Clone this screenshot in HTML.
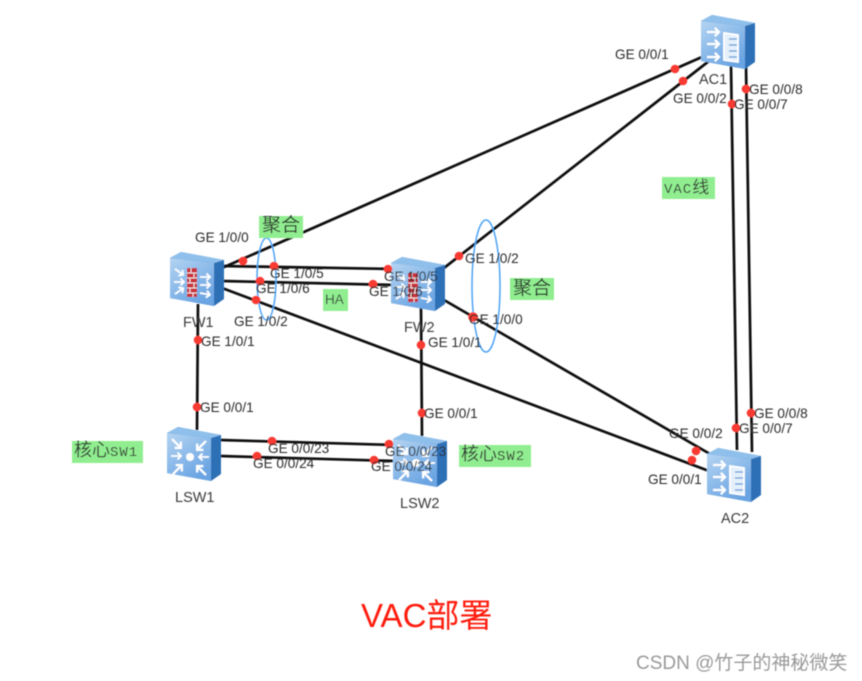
<!DOCTYPE html>
<html><head><meta charset="utf-8"><style>
html,body{margin:0;padding:0;background:#fff;width:862px;height:681px;overflow:hidden}
svg{display:block}
.t{font:13.6px "Liberation Sans",sans-serif;fill:#2b2b2b}
.n{font:14.5px "Liberation Sans",sans-serif;fill:#3a3a3a}
.c{font:19px "Liberation Sans","Noto Sans CJK SC",sans-serif;fill:#2b2b2b}
.m{font:14px "Liberation Mono","Noto Sans CJK SC",monospace;fill:#333;letter-spacing:1px}
.l{stroke:#111;stroke-width:2.7;fill:none}
.d{fill:#f83a32}
</style></head><body>
<svg width="862" height="681" viewBox="0 0 862 681" xmlns="http://www.w3.org/2000/svg">
<defs>
<linearGradient id="f" x1="0" y1="0" x2="0.6" y2="1"><stop offset="0" stop-color="#b4d4f2"/><stop offset="1" stop-color="#6aa4e2"/></linearGradient>
<filter id="b"><feGaussianBlur stdDeviation="0.45"/></filter>
<g id="box">
<path d="M0 6L11 0L54 8L54 47L44 54L0 46Z" fill="#2f70b6"/>
<path d="M0 6L11 0L54 8L44 11Z" fill="#8fc0ec"/>
<path d="M0 6L44 11L44 54L0 46Z" fill="url(#f)"/>
</g>
<g id="arr" fill="none" stroke="#fff" stroke-width="1.8"><path d="M0 0H10M6.500 -3.500L10 0L6.500 3.500"/></g>
<g id="fw"><use href="#box"/>
<rect x="17" y="16" width="10" height="29" fill="#c8303a"/>
<path d="M17 21H27M17 26H27M17 31H27M17 36H27M17 41H27M21 16V21M24 21V26M20 26V31M24 31V36M20 36V41M23 41V45" stroke="#f3dfe0" stroke-width="1"/>
<use href="#arr" transform="translate(5 17) rotate(35)"/><use href="#arr" transform="translate(4 30)"/><use href="#arr" transform="translate(5 42) rotate(-35)"/>
<use href="#arr" transform="translate(30 25)"/><use href="#arr" transform="translate(30 33)"/><use href="#arr" transform="translate(30 41) rotate(10)"/>
</g>
<g id="ac"><use href="#box"/>
<use href="#arr" transform="translate(6 17) scale(1.2)"/><use href="#arr" transform="translate(6 29) scale(1.2)"/><use href="#arr" transform="translate(6 42) scale(1.2)"/>
<path d="M23 18L37 20V47L23 45Z" fill="#e4f0fb" stroke="#fff" stroke-width="1.800"/>
<path d="M28 24H36M28 30H36M28 36H36M28 42H36" stroke="#5b96d8" stroke-width="1.300"/>
</g>
<g id="sw"><use href="#box"/>
<circle cx="23" cy="30" r="4" fill="#fff"/>
<use href="#arr" transform="translate(5 12) rotate(45) scale(1.25)"/><use href="#arr" transform="translate(39 14) rotate(135) scale(1.25)"/>
<use href="#arr" transform="translate(6 47) rotate(-45) scale(1.25)"/><use href="#arr" transform="translate(39 48) rotate(-135) scale(1.25)"/>
<use href="#arr" transform="translate(4 29)"/><use href="#arr" transform="translate(42 30) rotate(180)"/>
</g>
</defs>
<rect width="862" height="681" fill="#fff"/>
<g filter="url(#b)">
<g class="l">
<path d="M222 268L702 57"/><path d="M444 268L709 61"/>
<path d="M222 266L394 269"/><path d="M222 281L394 285"/>
<path d="M222 288L709 471"/><path d="M444 300L710 454"/>
<path d="M731 66L737 450"/><path d="M746 66L752 452"/>
<path d="M198 304L197 430"/><path d="M421 308L422 436"/>
<path d="M220 440L395 445"/><path d="M220 456L395 461"/>
</g>
<use href="#fw" x="170" y="252"/><use href="#fw" x="391" y="257"/>
<use href="#ac" x="701" y="15"/><use href="#ac" x="707" y="448"/>
<use href="#sw" x="167" y="427"/><use href="#sw" x="393" y="433"/>
<g fill="none" stroke="#4da3f5" stroke-width="1.500">
<ellipse cx="266.500" cy="279" rx="9.500" ry="41"/>
<ellipse cx="486" cy="286" rx="14" ry="66"/>
</g>
<g fill="#90ee90">
<rect x="259" y="216" width="44" height="22"/><rect x="323" y="289" width="25" height="22"/>
<rect x="510" y="278" width="44" height="22"/><rect x="662" y="177" width="53" height="22"/>
<rect x="72" y="441" width="71" height="22"/><rect x="459" y="445" width="72" height="22"/>
</g>
<g class="d">
<circle cx="243" cy="261" r="4.300"/><circle cx="675" cy="69" r="4.300"/><circle cx="459" cy="256" r="4.300"/><circle cx="683" cy="81" r="4.300"/>
<circle cx="274" cy="266" r="4.300"/><circle cx="388" cy="269" r="4.300"/><circle cx="260" cy="281" r="4.300"/><circle cx="373" cy="284" r="4.300"/>
<circle cx="256" cy="300" r="4.300"/><circle cx="692" cy="460" r="4.300"/><circle cx="473" cy="317" r="4.800"/><circle cx="696" cy="451" r="4.300"/>
<circle cx="746" cy="89" r="4.300"/><circle cx="732" cy="104" r="4.300"/><circle cx="751" cy="413" r="4.300"/><circle cx="736" cy="428" r="4.300"/>
<circle cx="198" cy="340" r="4.300"/><circle cx="197" cy="407" r="4.300"/><circle cx="421" cy="345" r="4.300"/><circle cx="422" cy="413" r="4.300"/>
<circle cx="272" cy="441" r="4.300"/><circle cx="389" cy="444" r="4.300"/><circle cx="257" cy="456" r="4.300"/><circle cx="374" cy="460" r="4.300"/>
</g>
<g class="t">
<text x="195" y="242">GE 1/0/0</text><text x="270" y="278">GE 1/0/5</text><text x="384" y="281">GE 1/0/5</text>
<text x="256" y="293">GE 1/0/6</text><text x="369" y="296">GE 1/0/6</text><text x="234" y="326">GE 1/0/2</text>
<text x="201" y="346">GE 1/0/1</text><text x="428" y="347">GE 1/0/1</text><text x="465" y="263">GE 1/0/2</text><text x="469" y="324">GE 1/0/0</text>
<text x="615" y="59">GE 0/0/1</text><text x="673" y="103">GE 0/0/2</text><text x="749" y="94">GE 0/0/8</text><text x="734" y="109">GE 0/0/7</text>
<text x="200" y="412">GE 0/0/1</text><text x="424" y="418">GE 0/0/1</text>
<text x="268" y="453">GE 0/0/23</text><text x="385" y="456">GE 0/0/23</text><text x="253" y="468">GE 0/0/24</text><text x="371" y="471">GE 0/0/24</text>
<text x="669" y="438">GE 0/0/2</text><text x="648" y="484">GE 0/0/1</text><text x="739" y="433">GE 0/0/7</text><text x="754" y="418">GE 0/0/8</text>
</g>
<g class="n">
<text x="183" y="327">FW1</text><text x="404" y="332">FW2</text><text x="699" y="84">AC1</text><text x="721" y="523">AC2</text>
<text x="175" y="502">LSW1</text><text x="400" y="508">LSW2</text><text x="325" y="304" style="font-size:13.500px">HA</text>
</g>
<text class="c" x="262" y="231">聚合</text><text class="c" x="513" y="294">聚合</text>
<text class="m" x="664" y="193">VAC<tspan style="font-size:17px;letter-spacing:0">线</tspan></text>
<text class="m" x="74" y="456"><tspan style="font-size:18px;letter-spacing:0">核心</tspan>SW1</text>
<text class="m" x="461" y="460"><tspan style="font-size:18px;letter-spacing:0">核心</tspan>SW2</text>
<text x="361" y="627" style="font:33px 'Liberation Sans','Noto Sans CJK SC',sans-serif;fill:#ff1a0a">VAC部署</text>
<text x="636" y="669" style="font:19px 'Liberation Sans','Noto Sans CJK SC',sans-serif;fill:#9a9a9a">CSDN @竹子的神秘微笑</text>
</g>
</svg>
</body></html>
